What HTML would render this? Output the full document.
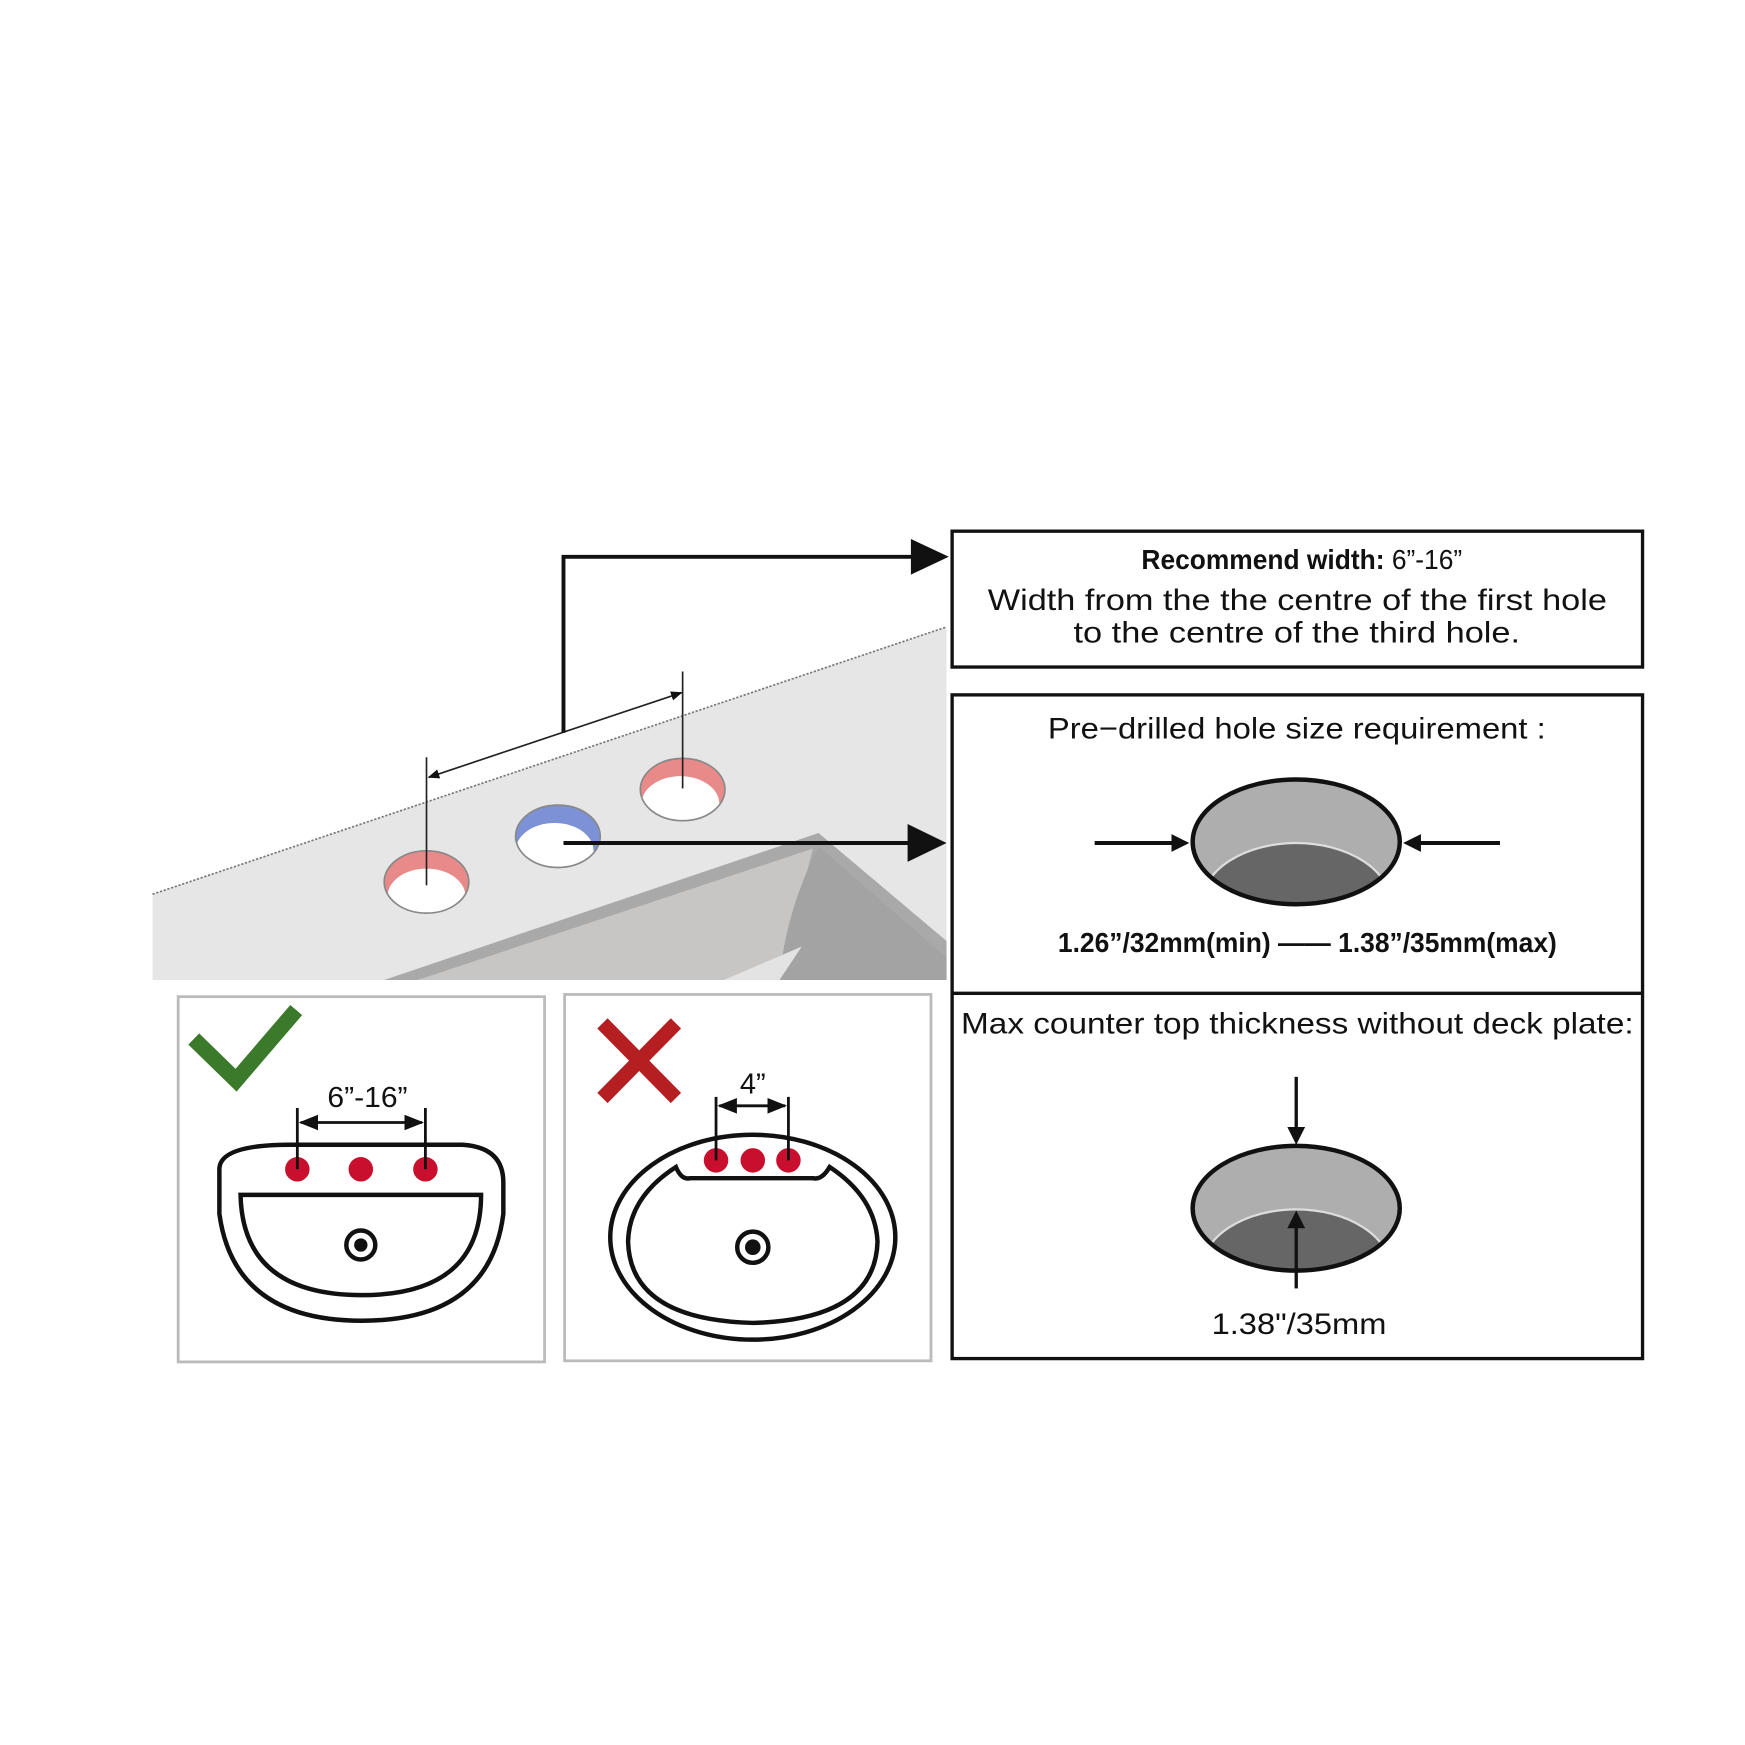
<!DOCTYPE html>
<html><head><meta charset="utf-8"><style>
html,body{margin:0;padding:0;background:#fff;}
svg{display:block;}
text{font-family:"Liberation Sans",sans-serif;fill:#111;}
.n{font-family:"Liberation Sans Narrow","Liberation Sans",sans-serif;font-weight:bold;}
</style></head><body>
<svg width="1745" height="1745" viewBox="0 0 1567 1567" xmlns="http://www.w3.org/2000/svg">
<defs>
<marker id="sa" viewBox="0 0 10 10" refX="9" refY="5" markerWidth="7" markerHeight="7" orient="auto-start-reverse"><path d="M0,1 L10,5 L0,9 z" fill="#111"/></marker>
<clipPath id="h1"><ellipse cx="383" cy="792" rx="38" ry="28"/></clipPath>
<clipPath id="h2"><ellipse cx="501" cy="751" rx="38" ry="28"/></clipPath>
<clipPath id="h3"><ellipse cx="613" cy="709" rx="38" ry="28"/></clipPath>
<clipPath id="e1"><ellipse cx="1164" cy="756" rx="93" ry="56"/></clipPath>
<clipPath id="e2"><ellipse cx="1164" cy="1085" rx="93" ry="56"/></clipPath>
</defs>
<polygon points="137,803 850,563 850,880 137,880" fill="#e6e6e6"/>
<line x1="137" y1="803" x2="850" y2="563" stroke="#777" stroke-width="1.5" stroke-dasharray="2,1.5"/>
<polygon points="345,880 735,748 850,845 850,880" fill="#a9a9a9"/>
<polygon points="375,880 730,762 700,880" fill="#c8c6c4"/>
<path d="M735,760 Q705,820 700,880 L850,880 L850,860 Z" fill="#a3a3a3"/>
<polygon points="650,880 720,850 700,880" fill="#e3e3e3"/>
<g clip-path="url(#h1)"><rect x="340" y="760" width="90" height="70" fill="#e88a8a"/><ellipse cx="383" cy="805" rx="35" ry="25" fill="#fff"/></g>
<ellipse cx="383" cy="792" rx="38" ry="28" fill="none" stroke="#888" stroke-width="1.5"/>
<g clip-path="url(#h2)"><rect x="460" y="720" width="90" height="70" fill="#7d92d6"/><ellipse cx="498" cy="764" rx="35" ry="25" fill="#fff"/></g>
<ellipse cx="501" cy="751" rx="38" ry="28" fill="none" stroke="#888" stroke-width="1.5"/>
<g clip-path="url(#h3)"><rect x="570" y="680" width="90" height="70" fill="#e88a8a"/><ellipse cx="611" cy="722" rx="35" ry="25" fill="#fff"/></g>
<ellipse cx="613" cy="709" rx="38" ry="28" fill="none" stroke="#888" stroke-width="1.5"/>
<line x1="383" y1="680" x2="383" y2="795" stroke="#222" stroke-width="1.5"/>
<line x1="613" y1="603" x2="613" y2="708" stroke="#222" stroke-width="1.5"/>
<line x1="385" y1="698" x2="612" y2="622" stroke="#222" stroke-width="1.5" marker-start="url(#sa)" marker-end="url(#sa)"/>
<polyline points="506,658 506,500 822,500" fill="none" stroke="#111" stroke-width="3.5"/>
<polygon points="818,484 852,500 818,516" fill="#111"/>
<line x1="506" y1="757" x2="818" y2="757" stroke="#111" stroke-width="3.5"/>
<polygon points="815,740 850,757 815,774" fill="#111"/>
<rect x="855" y="477" width="620" height="122" fill="none" stroke="#111" stroke-width="3"/>
<text x="1025" y="511" font-size="25" class="n" textLength="288" lengthAdjust="spacingAndGlyphs">Recommend width: <tspan font-weight="normal">6”-16”</tspan></text>
<text x="887" y="548" font-size="27" textLength="556" lengthAdjust="spacingAndGlyphs">Width from the the centre of the first hole</text>
<text x="964" y="577" font-size="27" textLength="401" lengthAdjust="spacingAndGlyphs">to the centre of the third hole.</text>
<rect x="855" y="624" width="620" height="596" fill="none" stroke="#111" stroke-width="3"/>
<line x1="855" y1="892" x2="1475" y2="892" stroke="#111" stroke-width="3"/>
<text x="941" y="663" font-size="27" textLength="447" lengthAdjust="spacingAndGlyphs">Pre−drilled hole size requirement :</text>
<g clip-path="url(#e1)"><rect x="1060" y="690" width="210" height="130" fill="#aeaeae"/><ellipse cx="1164" cy="812" rx="85" ry="55" fill="#666" stroke="#ddd" stroke-width="2"/></g>
<ellipse cx="1164" cy="756" rx="93" ry="56" fill="none" stroke="#111" stroke-width="4"/>
<line x1="983" y1="757" x2="1056" y2="757" stroke="#111" stroke-width="3.5"/>
<polygon points="1052,749 1068,757 1052,765" fill="#111"/>
<line x1="1347" y1="757" x2="1274" y2="757" stroke="#111" stroke-width="3.5"/>
<polygon points="1276,749 1260,757 1276,765" fill="#111"/>
<text x="950" y="855" font-size="25" class="n" textLength="448" lengthAdjust="spacingAndGlyphs">1.26”/32mm(min) —— 1.38”/35mm(max)</text>
<text x="863" y="928" font-size="27" textLength="604" lengthAdjust="spacingAndGlyphs">Max counter top thickness without deck plate:</text>
<g clip-path="url(#e2)"><rect x="1060" y="1020" width="210" height="130" fill="#aeaeae"/><ellipse cx="1164" cy="1141" rx="85" ry="55" fill="#666" stroke="#ddd" stroke-width="2"/></g>
<ellipse cx="1164" cy="1085" rx="93" ry="56" fill="none" stroke="#111" stroke-width="4"/>
<line x1="1164" y1="967" x2="1164" y2="1015" stroke="#111" stroke-width="3"/>
<polygon points="1156,1012 1164,1028 1172,1012" fill="#111"/>
<line x1="1164" y1="1157" x2="1164" y2="1100" stroke="#111" stroke-width="3"/>
<polygon points="1156,1103 1164,1087 1172,1103" fill="#111"/>
<text x="1088" y="1198" font-size="27" textLength="157" lengthAdjust="spacingAndGlyphs">1.38"/35mm</text>
<rect x="160" y="895" width="329" height="328" fill="none" stroke="#bbb" stroke-width="2.5"/>
<rect x="507" y="893" width="329" height="329" fill="none" stroke="#bbb" stroke-width="2.5"/>
<polyline points="174,933 212,970 266,907" fill="none" stroke="#3a7a2a" stroke-width="14"/>
<line x1="541" y1="919" x2="607" y2="986" stroke="#b51f22" stroke-width="13"/>
<line x1="607" y1="919" x2="541" y2="986" stroke="#b51f22" stroke-width="13"/>
<path d="M197,1050 Q197,1028 260,1028 L415,1028 Q452,1030 452,1062 L452,1090 Q440,1186 325,1186 Q210,1186 197,1090 Z" fill="#fff" stroke="#111" stroke-width="4"/>
<path d="M216,1073 L432,1073 Q432,1163 325,1163 Q218,1163 216,1073 Z" fill="none" stroke="#111" stroke-width="4"/>
<circle cx="324" cy="1118" r="13" fill="#fff" stroke="#111" stroke-width="4"/><circle cx="324" cy="1118" r="6" fill="#111"/>
<circle cx="267" cy="1050" r="11" fill="#c8102e"/><circle cx="324" cy="1050" r="11" fill="#c8102e"/><circle cx="382" cy="1050" r="11" fill="#c8102e"/>
<line x1="267" y1="995" x2="267" y2="1050" stroke="#111" stroke-width="2.5"/>
<line x1="382" y1="995" x2="382" y2="1050" stroke="#111" stroke-width="2.5"/>
<line x1="270" y1="1008" x2="379" y2="1008" stroke="#111" stroke-width="2.5" marker-start="url(#sa)" marker-end="url(#sa)"/>
<text x="294" y="994" font-size="26" textLength="72" lengthAdjust="spacingAndGlyphs">6”-16”</text>
<ellipse cx="676" cy="1111" rx="128" ry="92" fill="#fff" stroke="#111" stroke-width="4"/>
<path d="M607,1048 Q565,1075 564,1115 Q566,1185 676,1188 Q786,1185 788,1115 Q786,1075 745,1048 Q738,1060 730,1058 L620,1058 Q612,1060 607,1048 Z" fill="none" stroke="#111" stroke-width="4"/>
<circle cx="676" cy="1120" r="14" fill="#fff" stroke="#111" stroke-width="4"/><circle cx="676" cy="1120" r="7" fill="#111"/>
<circle cx="643" cy="1042" r="11" fill="#c8102e"/><circle cx="676" cy="1042" r="11" fill="#c8102e"/><circle cx="708" cy="1042" r="11" fill="#c8102e"/>
<line x1="643" y1="985" x2="643" y2="1042" stroke="#111" stroke-width="2.5"/>
<line x1="708" y1="985" x2="708" y2="1042" stroke="#111" stroke-width="2.5"/>
<line x1="646" y1="993" x2="705" y2="993" stroke="#111" stroke-width="2.5" marker-start="url(#sa)" marker-end="url(#sa)"/>
<text x="676" y="982" text-anchor="middle" font-size="26">4”</text>
</svg>
</body></html>
